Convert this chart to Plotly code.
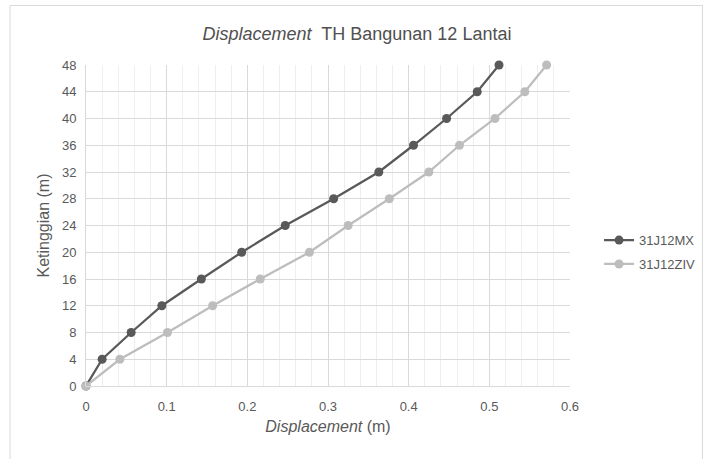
import plotly.graph_objects as go

heights = [0, 4, 8, 12, 16, 20, 24, 28, 32, 36, 40, 44, 48]
disp_mx = [0, 0.020, 0.056, 0.094, 0.143, 0.193, 0.247, 0.307, 0.363, 0.406, 0.447, 0.485, 0.512]
disp_ziv = [0, 0.042, 0.101, 0.157, 0.216, 0.277, 0.325, 0.376, 0.425, 0.463, 0.507, 0.544, 0.571]
series_names = ["31J12MX", "31J12ZIV"]
series_colors = ["#595959", "#BDBDBD"]
x_ticks = [0, 0.1, 0.2, 0.3, 0.4, 0.5, 0.6]
x_tick_labels = ["0", "0.1", "0.2", "0.3", "0.4", "0.5", "0.6"]
y_ticks = list(range(0, 49, 4))

FONT = "Liberation Sans"
TXT = "#595959"

fig = go.Figure()
for name, xs, col in zip(series_names, [disp_mx, disp_ziv], series_colors):
    fig.add_trace(go.Scatter(
        x=xs, y=heights, name=name, mode="lines+markers",
        legendgroup=name,
        line=dict(color=col, width=2.25),
        marker=dict(color=col, size=9),
        cliponaxis=False,
    ))

fig.update_layout(
    width=703, height=459,
    margin=dict(l=86, r=133, t=65, b=73, autoexpand=False),
    paper_bgcolor="white", plot_bgcolor="white",
    font=dict(family=FONT, color=TXT, size=12),
    title=dict(
        text="<i>Displacement</i>  TH Bangunan 12 Lantai",
        x=357 / 703, xref="container", xanchor="center",
        y=1 - 34 / 459, yref="container", yanchor="middle",
        font=dict(family=FONT, size=18, color="#505050"),
    ),
    showlegend=True,
    legend=dict(
        x=1.06, xanchor="left", y=0.417, yanchor="middle",
        font=dict(family=FONT, size=13, color=TXT),
        bgcolor="rgba(0,0,0,0)", itemwidth=30, tracegroupgap=4,
    ),
    shapes=[dict(
        type="rect", xref="paper", yref="paper",
        x0=(10 - 86) / 484, x1=(702.5 - 86) / 484,
        y0=(386 - 470) / 321, y1=(386 - 5.5) / 321,
        line=dict(color="#D9D9D9", width=1), fillcolor="rgba(0,0,0,0)",
        layer="below",
    )],
)

fig.update_xaxes(
    range=[0, 0.6], tickvals=x_ticks, ticktext=x_tick_labels,
    showgrid=True, gridcolor="#D9D9D9", gridwidth=1,
    minor=dict(dtick=0.02, showgrid=True, gridcolor="#EEEEEE", gridwidth=1),
    showline=True, linecolor="#D9D9D9", linewidth=1, mirror=False,
    zeroline=False, ticks="", ticklabelstandoff=8,
    tickfont=dict(family=FONT, size=13, color=TXT),
    title=dict(text="<i>Displacement</i> (m)", font=dict(family=FONT, size=16, color=TXT), standoff=8),
)
fig.update_yaxes(
    range=[0, 48], tickvals=y_ticks,
    showgrid=True, gridcolor="#D9D9D9", gridwidth=1,
    showline=True, linecolor="#D9D9D9", linewidth=1,
    zeroline=False, ticks="", ticklabelstandoff=6,
    tickfont=dict(family=FONT, size=13, color=TXT),
    title=dict(text="Ketinggian (m)", font=dict(family=FONT, size=16, color=TXT), standoff=8),
)

fig.write_html("out.html")
